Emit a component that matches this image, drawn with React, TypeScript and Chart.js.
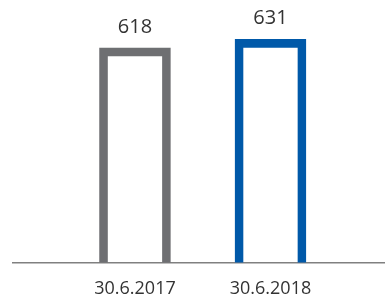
import React, { useEffect, useRef } from "react";
import { Chart, registerables } from "chart.js";

Chart.register(...registerables);

const categories = ["30.6.2017", "30.6.2018"];
const positions = [0, 1];
const values = [618, 631];
const barColors = ["#6e6f72", "#0059a9"];

export default function App() {
  const ref = useRef<HTMLCanvasElement | null>(null);

  useEffect(() => {
    document.body.style.margin = "0";
    const canvas = ref.current;
    if (!canvas) return;

    const valueLabels = {
      id: "valueLabels",
      afterDatasetsDraw(chart: any) {
        const ctx = chart.ctx;
        const meta = chart.getDatasetMeta(0);
        ctx.save();
        ctx.font = "20px 'Open Sans'";
        ctx.fillStyle = "#333333";
        ctx.textAlign = "center";
        ctx.textBaseline = "alphabetic";
        meta.data.forEach((el: any, i: number) => {
          ctx.fillText(String(values[i]), el.x, el.y - 15);
        });
        ctx.restore();
      },
    };

    const chart = new Chart(canvas, {
      type: "bar",
      data: {
        datasets: [
          {
            data: positions.map((p, i) => ({ x: p, y: values[i] })),
            backgroundColor: "rgba(255,255,255,0)",
            borderColor: barColors,
            borderWidth: 8,
            borderSkipped: "bottom",
            barThickness: 71,
          },
        ],
      },
      options: {
        responsive: false,
        animation: false,
        layout: { padding: { left: 13, right: 0, top: 0, bottom: 0 } },
        plugins: {
          legend: { display: false },
          tooltip: { enabled: false },
        },
        scales: {
          x: {
            type: "linear",
            offset: false,
            min: -0.9,
            max: 1.845,
            grid: { display: false, drawTicks: false, offset: false },
            border: { display: true, color: "#808080", width: 1.5 },
            afterBuildTicks: (scale: any) => {
              scale.ticks = positions.map((v) => ({ value: v }));
            },
            afterFit: (scale: any) => {
              scale.height = 39.5;
            },
            ticks: {
              padding: 16,
              color: "#333333",
              font: { family: "'Open Sans'", size: 18 },
              maxRotation: 0,
              autoSkip: false,
              callback: (v: any) => {
                const idx = positions.indexOf(Number(v));
                return idx >= 0 ? categories[idx] : "";
              },
            },
          },
          y: {
            display: false,
            min: 286,
            max: 692,
          },
        },
      },
      plugins: [valueLabels],
    });

    return () => chart.destroy();
  }, []);

  return (
    <div style={{ width: 385, height: 302 }}>
      <canvas ref={ref} width={385} height={302} style={{ display: "block" }} />
    </div>
  );
}
